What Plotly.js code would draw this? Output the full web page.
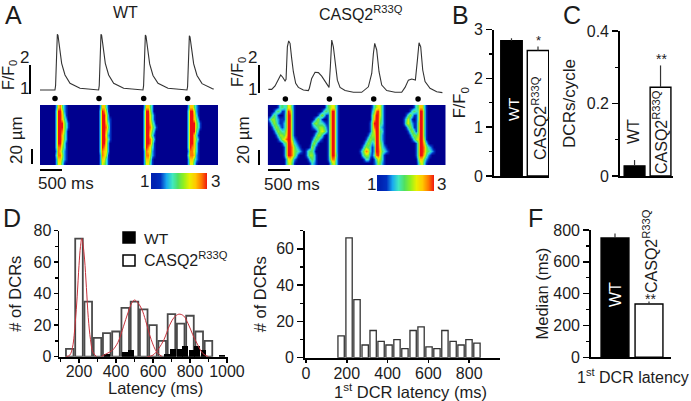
<!DOCTYPE html>
<html>
<head>
<meta charset="utf-8">
<script src="https://cdn.plot.ly/plotly-3.0.1.min.js"></script>
<style>html,body{margin:0;padding:0;background:#fff;overflow:hidden}#chart{width:691px;height:401px}</style>
</head>
<body>
<div id="chart"></div>
<script>
// ---------- Panel A: fluorescence traces ----------
const wtTime = [0,150,340,354,366,379,394,409,424,455,492,568,682,909,1136,1332,1346,1358,1371,1386,1401,1416,1447,1484,1560,1674,1901,2128,2340,2354,2366,2379,2394,2409,2424,2455,2492,2568,2682,2909,3136,3340,3354,3366,3379,3394,3409,3424,3455,3492,3568,3682,3909,3945];
const wtF = [1,1.01,1,1.15,2,2.7,2.92,2.88,2.72,2.38,1.92,1.52,1.23,1.06,1.02,1,1.15,2,2.7,2.92,2.88,2.72,2.38,1.92,1.52,1.23,1.06,1.02,1,1.15,2,2.7,2.9,2.86,2.7,2.36,1.9,1.5,1.23,1.06,1.02,1,1.12,1.95,2.65,2.87,2.83,2.68,2.35,1.9,1.5,1.22,1.05,1.03];
const casqTime = [15,91,167,242,295,341,394,417,447,477,508,545,583,636,697,811,924,947,1000,1076,1152,1227,1303,1394,1424,1455,1492,1530,1583,1644,1758,1947,2136,2288,2364,2402,2432,2477,2530,2591,2705,2894,3045,3121,3197,3273,3356,3402,3439,3477,3523,3576,3689,3841,3970];
const casqF = [1.02,1.02,1.14,1.4,1.52,1.44,1.31,1.37,2.49,2.69,2.61,2.09,1.63,1.23,1.09,1,0.98,1.06,1.4,1.61,1.6,1.48,1.29,1.09,1.8,2.72,2.49,1.92,1.34,1.09,0.98,0.92,0.92,1.11,1.57,2.26,2.61,2.38,1.63,1.17,0.98,0.92,0.92,1.09,1.34,1.38,1.34,2.03,2.63,2.49,1.69,1.29,1.06,0.94,0.91];
const wtStim = [341,1341,2356,3356];
const casqStim = [402,1402,2409,3417];
const stimLevelWT = [0.71,0.71,0.71,0.71];
const stimLevelCASQ = [0.69,0.69,0.69,0.69];

// ---------- Panel A: line-scan images, one digit per cell, 15 rows, one block per beat ----------
const wtBeat1 = ["0000000027842100000000","0000000039962100000000","0000000039973100000000","0000000039974200000000","0000000039995310000000","0000000039995310000000","0000000039985200000000","0000000039974200000000","0000000039974200000000","0000000039963100000000","0000000038853100000000","0000000028742100000000","0000000038852100000000","0000000027742100000000","0000000026631000000000"];
const wtBeat2 = ["0000000027731000000000","0000000039851000000000","0000000039962000000000","0000000039962100000000","0000000039973100000000","0000000039984100000000","0000000039973100000000","0000000039962100000000","0000000039973100000000","0000000039962000000000","0000000039862000000000","0000000038762000000000","0000000028751000000000","0000000027631000000000","0000000026531000000000"];
const wtBeat3 = ["0000000027742000000000","0000000039952000000000","0000000039963100000000","0000000039963100000000","0000000039974200000000","0000000039985310000000","0000000039974200000000","0000000039963100000000","0000000039985200000000","0000000039984100000000","0000000039863100000000","0000000028762100000000","0000000028852100000000","0000000027741000000000","0000000026631000000000"];
const wtBeat4 = ["00000000277421000000000","00000000399621000000000","00000000399731000000000","00000000399742000000000","00000000399953100000000","00000000399953100000000","00000000399942000000000","00000000399731000000000","00000000399742000000000","00000000399731000000000","00000000398731000000000","00000000288631000000000","00000000388721000000000","00000000277421000000000","00000000266310000000000"];
const casqBeat1 = ["0000013433663100000000","0001343113984100000000","0024310014994100000000","1355321114994100000000","0135421124994100000000","0013542124994100000000","0001354335994100000000","0000135546994100000000","0000013568995210000000","0000000134997321000000","0000000014998532100001","0000000014998543210134","0000000014998531000135","0000000002675210000013","0000000002564100000001"];
const casqBeat2 = ["0000000245663100000000","0000013435993100000000","0001353115993100000000","0135310015993100000000","2454332115993100000000","1234554215993100000000","0013565315993100000000","0135531015993100000000","1354210015993100000000","3531000015993100000000","5310000015993100000000","4200000015993100000000","5310000015994100000000","4310000014883100000000","3210000002563100000000"];
const casqBeat3 = ["0000000013566310000000","0000000024896310000000","0000000036996310000000","0000000037995310000000","0000000149994310000000","0000000148993210000000","0000000146994310000000","0000001355994210000000","0000013544994210000000","0000135423995310000000","0001354312996321000000","0013587312997432100000","0002455213896310000000","0000133101365310000000","0000000001254210000000"];
const casqBeat4 = ["00000001347731000000000","00000134339941000000000","00013531139941000000000","00136310139941000000000","00146421149941000000000","00013531149941000000000","00001353149941000000000","00000135459941000000000","00000013569951000000000","00000000149973100000000","00000000149985321000000","00000000149985432100000","00000000149974210000000","00000000037742100000000","00000000025631000000000"];
const legendLevels = [0.7,1,2,3,4,5,6,7,8,9];
const levelColors = ['#00008e','#0030c0','#18a8f0','#40e8c0','#50e060','#90f020','#e8f000','#ffc800','#ff7800','#ee1010'];

// ---------- Panel B ----------
const amplitudeMean = [2.77,2.57];
const amplitudeErr = [0.05,0.08];
const amplitudeStarLabel = '*';
// ---------- Panel C ----------
const dcrPerCycle = [0.028,0.245];
const dcrErr = [0.016,0.06];
// ---------- Panel D ----------
const latencyBins = [150,200,250,300,350,400,450,500,550,600,650,700,750,800,850,900];
const latencyCasq = [5,75,35,12,15,16,31,35,30,20,10,27,21,26,16,10];
const latencyWtBins = [353,447,481,677,710,744,775,809,840,873,973];
const latencyWt = [2,3,4.5,2,5,5,6.5,4,6.5,4,1];
const fit1X = [130,150,165,180,190,200,208,215,222,230,240,250,262,275,295];
const fit1Y = [0,1,6,22,38,58,70,75,71,62,44,25,11,3,0];
const fit2X = [320,350,380,410,440,465,485,500,520,540,560,590,620,650];
const fit2Y = [0,2,4,9,19,28,34,36,34,30,23,11,3,0];
const fit3X = [570,600,630,660,690,715,740,765,790,815,840,870,900];
const fit3Y = [0,1,5,11,20,25,27,26,21,14,8,2,0];
// ---------- Panel E ----------
const firstBins = [172,211,250,290,329,368,407,446,485,525,564,603,642,681,721,760,799,838];
const firstCounts = [12,66,32,7,15,9,7,10,5,15,17,6,5,15,9,7,10,8];
// ---------- Panel F ----------
const medianLatency = [750,335];
const medianErr = [28,15];

const W = 691, H = 401;
const dx = (a,b) => [a/W, b/W];
const dy = (top,bot) => [1-bot/H, 1-top/H];
const parseRows = blocks => blocks[0].map((_,r) => blocks.map(b => b[r]).join('').padEnd(90,'0').split('').map(Number));
const colorscale = levelColors.map((c,i) => [i/9,c]);
const FONT = 'Liberation Sans, Arial, sans-serif';
const INK = '#1c1c1c';

const layout = {
  width:W, height:H, margin:{l:0,r:0,t:0,b:0,pad:0}, paper_bgcolor:'#fff', plot_bgcolor:'rgba(0,0,0,0)',
  showlegend:false, font:{family:FONT,size:16,color:INK}, bargap:0, barmode:'overlay', shapes:[], annotations:[]
};
const hidden = (domain, range, anchor) => ({domain, range, anchor, visible:false, fixedrange:true});
function numAxis(domain, range, anchor, dtick, minor, extra){
  return Object.assign({domain, range, anchor, showline:true, linecolor:'#000', linewidth:1.8, ticks:'outside', ticklen:6, tickwidth:1.5,
    tickcolor:'#000', dtick, tick0:0, showgrid:false, zeroline:false, fixedrange:true, tickfont:{family:FONT,size:16,color:INK},
    minor: minor ? {dtick:minor, tick0:0, ticks:'outside', ticklen:3, tickwidth:1.2, tickcolor:'#000', showgrid:false} : undefined}, extra||{});
}
function baseX(domain, range, anchor){
  return {domain, range, anchor, showline:true, linecolor:'#000', linewidth:1.8, ticks:'', showticklabels:false, showgrid:false, zeroline:false, fixedrange:true};
}
const T = (text,size,standoff) => ({text, font:{family:FONT,size:size||16.5,color:INK}, standoff});

// axes
layout.xaxis  = hidden(dx(40,218), [0,4045], 'y');       layout.yaxis  = hidden(dy(28,104), [0.517,3.138], 'x');
layout.xaxis2 = hidden(dx(267.7,445.7), [0,4045], 'y2'); layout.yaxis2 = hidden(dy(28,104), [0.517,3.138], 'x2');
layout.xaxis3 = hidden(dx(40,218), [0,89], 'y3');        layout.yaxis3 = hidden(dy(105,165), [15,0], 'x3');
layout.xaxis4 = hidden(dx(267.7,445.7), [0,89], 'y4');   layout.yaxis4 = hidden(dy(105,165), [15,0], 'x4');
layout.xaxis5 = hidden(dx(151,207), [0,9.5], 'y5');      layout.yaxis5 = hidden(dy(173,189), [0,2], 'x5');
layout.xaxis6 = hidden(dx(377,434), [0,9.5], 'y6');      layout.yaxis6 = hidden(dy(175,191), [0,2], 'x6');
// B
layout.xaxis7 = baseX(dx(494,549), [0.34,2.415], 'y7');
layout.yaxis7 = numAxis(dy(29.5,176), [0,3], 'x7', 1, 0.5, {title:T('F/F<sub>0</sub>',16.5,4)});
// C
layout.xaxis8 = baseX(dx(620,673), [0.44,2.48], 'y8');
layout.yaxis8 = numAxis(dy(31,176), [0,0.4], 'x8', 0.2, 0.1, {title:T('DCRs/cycle',17,7), tickformat:'.1f'});
layout.yaxis8.tickvals = [0,0.2,0.4]; layout.yaxis8.ticktext = ['0','0.2','0.4']; layout.yaxis8.tickmode='array';
// D
layout.xaxis9 = numAxis(dx(59.3,227.7), [93.5,1004], 'y9', 200, 100, {ticklen:4, tick0:200, ticklabelstandoff:-5});
layout.yaxis9 = numAxis(dy(230.7,356.7), [0,80], 'x9', 20, 10, {ticklen:4, ticklabelstandoff:-1, title:T('# of DCRs',16.5,8)});
// E
layout.xaxis10 = numAxis(dx(305,500), [-5,951], 'y10', 200, 0, {ticklen:3, ticklabelstandoff:-3});
layout.yaxis10 = numAxis(dy(230.7,357.7), [0,70], 'x10', 20, 10, {title:T('# of DCRs',16.5,5)});
// F
layout.xaxis11 = baseX(dx(591,671), [0.294,2.647], 'y11');
layout.yaxis11 = numAxis(dy(230,357.3), [0,800], 'x11', 200, 100, {title:T('Median (ms)',16.5,0)});

const line = (x,y,xa,ya,color,width,shape) => ({type:'scatter',mode:'lines',x,y,xaxis:xa,yaxis:ya,line:{color,width,shape:shape||'linear'},hoverinfo:'skip',cliponaxis:false});
const dots = (x,y,xa,ya) => ({type:'scatter',mode:'markers',x,y,xaxis:xa,yaxis:ya,marker:{color:'#000',size:5.5},hoverinfo:'skip'});
const heat = (z,xa,ya,x0) => ({type:'heatmap',z,x0,dx:1,y0:0.5,dy:1,xaxis:xa,yaxis:ya,zmin:0,zmax:9,colorscale,showscale:false,zsmooth:'best',hoverinfo:'skip'});
const bars = (vals,errs,xa,ya,w) => ({type:'bar',x:[1,2],y:vals,width:w,xaxis:xa,yaxis:ya,hoverinfo:'skip',
  marker:{color:['#000','#fff'],line:{color:'#000',width:1.4}},
  error_y:{type:'data',symmetric:false,array:errs,arrayminus:[0,0],color:'#333',thickness:1.2,width:0}});

const traces = [
  line(wtTime,wtF,'x','y','#333',1.1),
  line(casqTime,casqF,'x2','y2','#333',1.1),
  dots(wtStim,stimLevelWT,'x','y'),
  dots(casqStim,stimLevelCASQ,'x2','y2'),
  heat(parseRows([wtBeat1,wtBeat2,wtBeat3,wtBeat4]),'x3','y3',0),
  heat(parseRows([casqBeat1,casqBeat2,casqBeat3,casqBeat4]),'x4','y4',0),
  heat([legendLevels,legendLevels],'x5','y5',0.5),
  heat([legendLevels,legendLevels],'x6','y6',0.5),
  bars(amplitudeMean,amplitudeErr,'x7','y7',0.81),
  bars(dcrPerCycle,dcrErr,'x8','y8',0.8),
  {type:'bar',x:latencyBins,y:latencyCasq,width:41,xaxis:'x9',yaxis:'y9',hoverinfo:'skip',marker:{color:'#fff',line:{color:'#4a4a4a',width:1.8}}},
  {type:'bar',x:latencyWtBins,y:latencyWt,width:32,xaxis:'x9',yaxis:'y9',hoverinfo:'skip',marker:{color:'#000',line:{width:0}}},
  line(fit1X,fit1Y,'x9','y9','#c8323c',1,'spline'),
  line(fit2X,fit2Y,'x9','y9','#c8323c',1,'spline'),
  line(fit3X,fit3Y,'x9','y9','#c8323c',1,'spline'),
  {type:'bar',x:firstBins,y:firstCounts,width:31,xaxis:'x10',yaxis:'y10',hoverinfo:'skip',marker:{color:'#fff',line:{color:'#333',width:1.3}}},
  bars(medianLatency,medianErr,'x11','y11',0.82)
];

// text and decorations, placed in page pixels
function txt(text,x,y,size,opt){
  layout.annotations.push(Object.assign({text,x:x/W,y:1-y/H,xref:'paper',yref:'paper',xanchor:'center',yanchor:'middle',showarrow:false,
    font:{family:FONT,size,color:INK},borderpad:0}, opt||{}));
}
function seg(x0,y0,x1,y1,w){
  layout.shapes.push({type:'line',xref:'paper',yref:'paper',x0:x0/W,x1:x1/W,y0:1-y0/H,y1:1-y1/H,line:{color:'#000',width:w||2}});
}
function box(x0,y0,x1,y1,fill){
  layout.shapes.push({type:'rect',xref:'paper',yref:'paper',x0:x0/W,x1:x1/W,y0:1-y0/H,y1:1-y1/H,fillcolor:fill,line:{color:'#000',width:1.5}});
}
[['A',13,15.5],['B',460,15.5],['C',572,15.5],['D',12,218],['E',259.5,218],['F',535,218]].forEach(p=>txt(p[0],p[1],p[2],25));
txt('WT',125,13,16);
txt('CASQ2<sup>R33Q</sup>',361,13,16);
// A WT
txt('F/F<sub>0</sub>',9,75,16,{textangle:-90}); txt('2',24,57,17); txt('1',24,88,17);
seg(30,65,30,94); seg(32,149,32,164);
txt('20 µm',16,140,17,{textangle:-90});
seg(40,170,62,170); txt('500 ms',66,183,17);
txt('1',144,182,17); txt('3',216,182,17);
// A CASQ
txt('F/F<sub>0</sub>',238,72,16,{textangle:-90}); txt('2',252,57,17); txt('1',252,89,17);
seg(259,65,259,93); seg(259,150,259,165);
txt('20 µm',243,140,17,{textangle:-90});
seg(268,170,290,170); txt('500 ms',292,184,17);
txt('1',371,184,17); txt('3',442,184,17);
// B
txt('WT',513,110,15,{textangle:-90,font:{family:FONT,size:15,color:'#fff'}});
txt('CASQ2<sup>R33Q</sup>',539,118,16,{textangle:-90});
txt(amplitudeStarLabel,538,41,13);
// C
txt('WT',634,132,16,{textangle:-90});
txt('CASQ2<sup>R33Q</sup>',660,132,16,{textangle:-90});
txt('**',661.7,59,14);
// D legend
box(123,232,135,243,'#000'); box(123,255,135,266,'#fff');
txt('WT',143,238,15.5,{xanchor:'left'}); txt('CASQ2<sup>R33Q</sup>',143,259,16,{xanchor:'left'});
// axis captions
txt('Latency (ms)',155,388,16.5);
txt('1<sup>st</sup> DCR latency (ms)',410,391,16.5);
txt('1<sup>st</sup> DCR latency',632.7,376,16);
// F
txt('WT',615,295,16,{textangle:-90,font:{family:FONT,size:16,color:'#fff'}});
txt('CASQ2<sup>R33Q</sup>',650,251,16,{textangle:-90});
txt('**',650,299,14);

Plotly.newPlot('chart',traces,layout,{staticPlot:true,displayModeBar:false});
</script>
</body>
</html>
